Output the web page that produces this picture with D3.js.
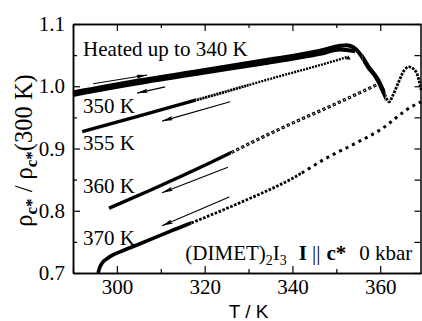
<!DOCTYPE html>
<html>
<head>
<meta charset="utf-8">
<script src="https://cdn.jsdelivr.net/npm/d3@7"></script>
<style>
  body { margin: 0; background: #fff; }
  svg { display: block; }
  text { font-family: "Liberation Serif", "DejaVu Serif", "Times New Roman", serif; fill: #000; }
</style>
</head>
<body>
<div id="chart"></div>
<script>
// values: [T (K), rho_c*/rho_c*(300 K)]
const heating = [
  [290.0, 0.990], [304.0, 1.008], [319.0, 1.025], [333.0, 1.041], [346.3, 1.057],
  [350.9, 1.065], [352.3, 1.066], [353.8, 1.063], [355.4, 1.052], [357.3, 1.031],
  [359.5, 1.010], [360.9, 0.989], [362.0, 0.975], [363.0, 0.987], [364.1, 1.005],
  [365.5, 1.026], [366.6, 1.031], [368.2, 1.023], [369.3, 0.994]
];
const cool350 = [
  [290.0, 0.986], [304.0, 1.004], [319.0, 1.021], [333.0, 1.036], [346.3, 1.052],
  [350.9, 1.059], [354.3, 1.056]
];
const cool355 = [
  [292.1, 0.927], [307.0, 0.956], [321.2, 0.984], [335.0, 1.012], [350.2, 1.042], [352.5, 1.047]
];
const cool360 = [
  [298.2, 0.804], [307.6, 0.833], [321.5, 0.878], [336.7, 0.930], [351.8, 0.978], [359.1, 1.002]
];
const cool370 = [
  [295.70, 0.700], [296.16, 0.710], [296.84, 0.718], [297.75, 0.723], [299.12, 0.729],
  [300.72, 0.734], [304.59, 0.745], [312.12, 0.767], [319.64, 0.788], [328.08, 0.813],
  [340.0, 0.852], [348.1, 0.886], [354.0, 0.907], [360.0, 0.930], [367.1, 0.967], [369.3, 0.975]
];

// arrows: [from, to]
const arrows = [
  [[294.6, 1.004], [306.9, 1.018]],
  [[311.0, 0.999], [304.6, 0.989]],
  [[325.8, 0.975], [310.3, 0.944]],
  [[325.3, 0.870], [310.3, 0.829]],
  [[325.6, 0.822], [310.3, 0.776]]
];

const curveLabels = ['Heated up to 340 K', '350 K', '355 K', '360 K', '370 K'];
const curveLabelRho = [1.0486, 0.957, 0.8976, 0.8285, 0.745];
const curveLabelT = 292.3;

const xMajor = [300, 320, 340, 360];
const xMinor = [290, 310, 330, 350];
const yMajor = [0.7, 0.8, 0.9, 1.0, 1.1];
const yMinor = [0.75, 0.85, 0.95, 1.05];

const width = 422;
const height = 321;
const margin = { top: 24, right: 1, bottom: 48, left: 73 };

const svg = d3.select('#chart').append('svg')
  .attr('width', width)
  .attr('height', height);

const x = d3.scaleLinear().domain([290, 369.3]).range([margin.left, width - margin.right]);
const y = d3.scaleLinear().domain([0.7, 1.1]).range([height - margin.bottom, margin.top]);

// clip regions by temperature band, used to change marker style along one curve
const defs = svg.append('defs');
let clipId = 0;
function clipBand(lo, hi) {
  const id = 'clip' + (clipId++);
  defs.append('clipPath').attr('id', id)
    .append('rect')
    .attr('x', x(lo)).attr('y', 0)
    .attr('width', Math.max(0, x(hi) - x(lo))).attr('height', height - margin.bottom + 1);
  return 'url(#' + id + ')';
}

const line = d3.line()
  .x((d) => x(d[0]))
  .y((d) => y(d[1]))
  .curve(d3.curveMonotoneX);

// style of each curve by temperature range (dashes mimic the markers)
const styles = [
  { data: cool350, parts: [{ lo: 280, hi: 380, w: 4 }] },
  { data: heating, parts: [
    { lo: 280, hi: 356, w: 4 },
    { lo: 356, hi: 361.2, w: 4.6 },
    { lo: 361.2, hi: 380, w: 2.8, dash: '2.6,1.2' }
  ] },
  { data: cool355, parts: [
    { lo: 280, hi: 318, w: 3.4 },
    { lo: 318, hi: 330, w: 2.8, dash: '2.2,0.7' },
    { lo: 330, hi: 380, w: 2.4, dash: '2,1.1' }
  ] },
  { data: cool360, parts: [
    { lo: 280, hi: 326, w: 3.4 },
    { lo: 326, hi: 380, w: 3.2, dash: '3.2,2.4', hollow: '1.2,4.4', offset: -1 }
  ] },
  { data: cool370, parts: [
    { lo: 280, hi: 317, w: 3.6 },
    { lo: 317, hi: 342, w: 2.8, dash: '2.6,1.6' },
    { lo: 342, hi: 380, w: 3.0, dash: '3,4.2' }
  ] }
];

const curves = svg.append('g').attr('class', 'curves');
styles.forEach((s) => {
  s.parts.forEach((p) => {
    const g = curves.append('g').attr('clip-path', clipBand(p.lo, p.hi));
    g.append('path')
      .attr('d', line(s.data))
      .attr('fill', 'none')
      .attr('stroke', '#000')
      .attr('stroke-width', p.w)
      .attr('stroke-dasharray', p.dash || null);
    if (p.hollow) {
      g.append('path')
        .attr('d', line(s.data))
        .attr('fill', 'none')
        .attr('stroke', '#fff')
        .attr('stroke-width', 1)
        .attr('stroke-dasharray', p.hollow)
        .attr('stroke-dashoffset', p.offset || 0);
    }
  });
});

// the lone triangle at the start of the 355 K run
const last355 = cool355[cool355.length - 1];
curves.append('path')
  .attr('d', d3.symbol(d3.symbolTriangle, 10)())
  .attr('transform', `translate(${x(last355[0]) + 1},${y(last355[1]) + 1})`);

// arrows
defs.append('marker')
  .attr('id', 'head')
  .attr('viewBox', '0 0 11 4.4')
  .attr('refX', 11).attr('refY', 2.2)
  .attr('markerWidth', 11).attr('markerHeight', 4.4)
  .attr('markerUnits', 'userSpaceOnUse')
  .attr('orient', 'auto')
  .append('path')
  .attr('d', 'M0,0L11,2.2L0,4.4L2,2.2Z')
  .attr('fill', '#000');

svg.append('g').attr('class', 'arrows')
  .selectAll('line')
  .data(arrows)
  .enter().append('line')
  .attr('x1', (d) => x(d[0][0]))
  .attr('y1', (d) => y(d[0][1]))
  .attr('x2', (d) => x(d[1][0]))
  .attr('y2', (d) => y(d[1][1]))
  .attr('stroke', '#000')
  .attr('stroke-width', 1.1)
  .attr('marker-end', 'url(#head)');

// axes, ticks pointing in
const fontSize = 21;
function styleAxis(g) {
  g.attr('font-family', null);
  g.select('.domain').attr('stroke-width', 1.5);
  g.selectAll('.tick line').attr('stroke-width', 1.2);
  g.selectAll('text').attr('font-size', fontSize).attr('fill', '#000');
}

svg.append('g')
  .attr('transform', `translate(0,${height - margin.bottom})`)
  .call(d3.axisBottom(x).tickValues(xMajor).tickSizeInner(-7).tickSizeOuter(0).tickPadding(6).tickFormat(d3.format('d')))
  .call(styleAxis);
svg.append('g')
  .attr('transform', `translate(0,${height - margin.bottom})`)
  .call(d3.axisBottom(x).tickValues(xMinor).tickSizeInner(-4).tickSizeOuter(0).tickFormat(''))
  .call(styleAxis);
svg.append('g')
  .attr('transform', `translate(0,${margin.top})`)
  .call(d3.axisTop(x).tickValues(xMajor).tickSizeInner(-7).tickSizeOuter(0).tickFormat(''))
  .call(styleAxis);
svg.append('g')
  .attr('transform', `translate(0,${margin.top})`)
  .call(d3.axisTop(x).tickValues(xMinor).tickSizeInner(-4).tickSizeOuter(0).tickFormat(''))
  .call(styleAxis);

svg.append('g')
  .attr('transform', `translate(${margin.left},0)`)
  .call(d3.axisLeft(y).tickValues(yMajor).tickSizeInner(-7).tickSizeOuter(0).tickPadding(8).tickFormat(d3.format('.1f')))
  .call(styleAxis);
svg.append('g')
  .attr('transform', `translate(${margin.left},0)`)
  .call(d3.axisLeft(y).tickValues(yMinor).tickSizeInner(-4).tickSizeOuter(0).tickFormat(''))
  .call(styleAxis);
svg.append('g')
  .attr('transform', `translate(${width - margin.right - 0.5},0)`)
  .call(d3.axisRight(y).tickValues(yMajor.concat(yMinor)).tickSizeInner(-6).tickSizeOuter(0).tickFormat(''))
  .call(styleAxis);

// curve labels
svg.append('g').attr('class', 'labels')
  .selectAll('text')
  .data(curveLabels)
  .enter().append('text')
  .attr('x', x(curveLabelT))
  .attr('y', (d, i) => y(curveLabelRho[i]))
  .attr('font-size', fontSize)
  .text((d) => d);

// sample label
const sample = svg.append('text')
  .attr('x', x(315.6))
  .attr('y', y(0.7215))
  .attr('font-size', fontSize);
sample.append('tspan').text('(DIMET)');
sample.append('tspan').attr('font-size', 14).attr('dy', 5).text('2');
sample.append('tspan').attr('dy', -5).text('I');
sample.append('tspan').attr('font-size', 14).attr('dy', 5).text('3');
sample.append('tspan').attr('dy', -5).attr('dx', 12).attr('font-weight', 'bold').text('I');
sample.append('tspan').attr('dx', 5).text('||');
sample.append('tspan').attr('dx', 6).attr('font-weight', 'bold').text('c*');
sample.append('tspan').attr('dx', 13).text('0 kbar');

// axis titles
svg.append('text')
  .attr('x', x(330))
  .attr('y', height - 3)
  .attr('text-anchor', 'middle')
  .attr('font-size', 19)
  .style('font-family', '"Liberation Sans", Arial, sans-serif')
  .text('T / K');

const yTitle = svg.append('text')
  .attr('transform', `translate(32,${y(0.9) + 2}) rotate(-90)`)
  .attr('text-anchor', 'middle')
  .attr('font-size', 24.5);
yTitle.append('tspan').text('ρ');
yTitle.append('tspan').attr('font-size', 17).attr('font-weight', 'bold').attr('dy', 5).text('c*');
yTitle.append('tspan').attr('dy', -5).text(' / ρ');
yTitle.append('tspan').attr('font-size', 17).attr('font-weight', 'bold').attr('dy', 5).text('c*');
yTitle.append('tspan').attr('dy', -5).text('(300 K)');
</script>
</body>
</html>
